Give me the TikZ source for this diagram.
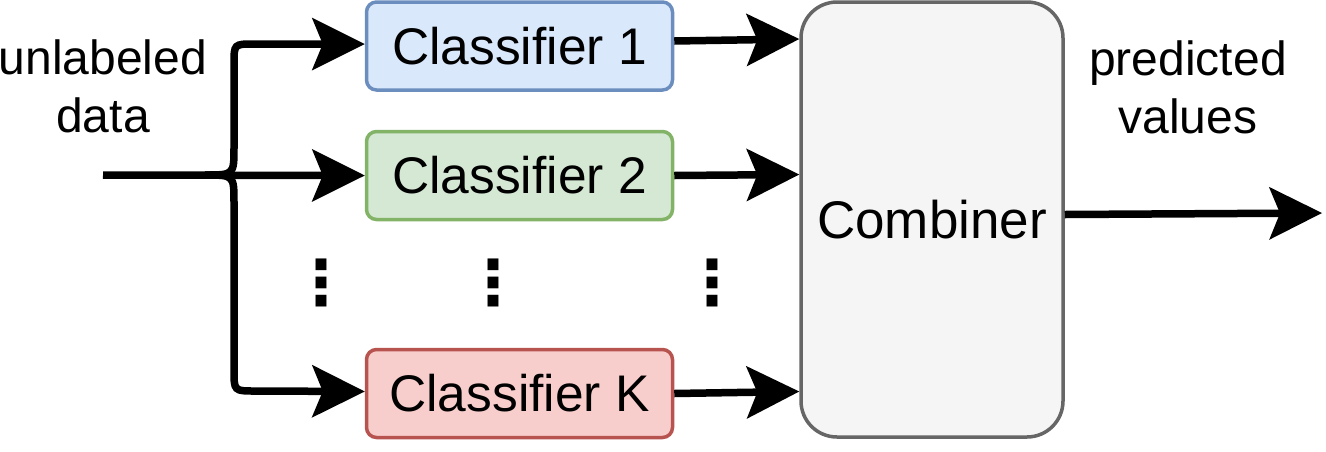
\documentclass[tikz,border=0pt]{standalone}
\usepackage{fontspec}
\setmainfont{Liberation Sans}
\newfontfamily\dejavu{DejaVu Sans}
\usetikzlibrary{arrows.meta}
\definecolor{cAfill}{HTML}{DAE8FC}
\definecolor{cAdraw}{HTML}{6C8EBF}
\definecolor{cBfill}{HTML}{D5E8D4}
\definecolor{cBdraw}{HTML}{82B366}
\definecolor{cKfill}{HTML}{F8CECC}
\definecolor{cKdraw}{HTML}{B85450}
\definecolor{cCfill}{HTML}{F5F5F5}
\definecolor{cCdraw}{HTML}{666666}
\begin{document}
\begin{tikzpicture}[x=1pt,y=-1pt,
  clsbox/.style={draw, line width=3.5pt, rounded corners=10pt, minimum width=306pt,
    minimum height=88pt, inner sep=0pt, font=\fontsize{51.5}{60}\selectfont},
  combbox/.style={draw=cCdraw, fill=cCfill, line width=3.5pt, rounded corners=36pt,
    minimum width=262pt, minimum height=435pt, inner sep=0pt, font=\fontsize{53}{62}\selectfont},
  flow/.style={line width=7.5pt, -{Stealth[length=53pt,width=53pt,inset=11pt,line width=0pt]}},
  lbl/.style={align=center, inner sep=0pt, font=\fontsize{48}{58}\selectfont},
  vdotsnode/.style={inner sep=0pt, font=\dejavu\bfseries\fontsize{62}{62}\selectfont}]
\useasboundingbox (0,0) rectangle (1326,451);

\node[clsbox, draw=cAdraw, fill=cAfill] (C1) at (519.5,46) {Classifier 1};
\node[clsbox, draw=cBdraw, fill=cBfill] (C2) at (519.5,175.5) {Classifier 2};
\node[clsbox, draw=cKdraw, fill=cKfill] (CK) at (519.5,393.5) {Classifier K};
\node[combbox] (Comb) at (932,219.5) {Combiner};

\node[lbl] (inlbl) at (103,86) {unlabeled\\data};
\node[lbl] (outlbl) at (1188,87) {predicted\\values};

\node[vdotsnode] (d1) at (321,283) {⋮};
\node[vdotsnode] (d2) at (493,283) {⋮};
\node[vdotsnode] (d3) at (712,283) {⋮};

\coordinate (in) at (103,175);
\coordinate (j) at (205,175);
\coordinate (out) at (1322,213);

\draw[flow] (in) -- (C2.west);
\draw[flow] (j) .. controls (234,175) .. (234,147) -- (234,64)
   .. controls (234,44) .. (254,44) -- ([yshift=2pt]C1.west);
\draw[flow] (j) .. controls (234,175) .. (234,203) -- (234,370)
   .. controls (234,391) .. (255,391) -- ([yshift=2pt]CK.west);

\draw[flow] ([yshift=5pt]C1.east) -- ([yshift=7pt]C1.east -| Comb.west);
\draw[flow] (C2.east) -- ([yshift=1pt]C2.east -| Comb.west);
\draw[flow] (CK.east) -- ([yshift=2pt]CK.east -| Comb.west);
\draw[flow] ([yshift=5pt]Comb.east) -- (out);
\end{tikzpicture}
\end{document}
